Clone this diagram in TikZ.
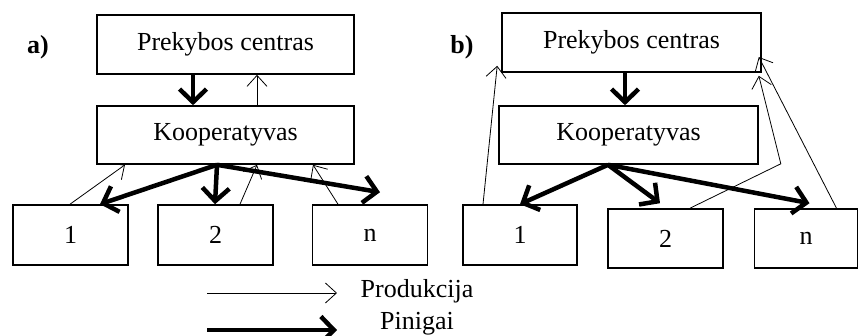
\documentclass[tikz,border=0pt]{standalone}
\usepackage{fontspec}
\setmainfont{Liberation Serif}
\usetikzlibrary{arrows.meta}

\begin{document}
\begin{tikzpicture}[x=1pt,y=-1pt,
  box/.style={draw,line width=1.6pt,inner sep=0pt,font=\fontsize{26}{30}\selectfont},
  lbl/.style={font=\fontsize{26}{30}\selectfont},
  prod/.style={line width=0.8pt,-{Straight Barb[length=11pt,width=20pt]}},
  pin/.style={line width=4.5pt,-{Straight Barb[length=13pt,width=27pt]}}]
\useasboundingbox (0,0) rectangle (859,335);
\node[lbl,font=\fontsize{26}{30}\selectfont\bfseries] (ta) at (38,47) {a)};
\node[box,minimum width=257,minimum height=59] (pa) at (225.5,44.5) {Prekybos centras};
\node[box,minimum width=257,minimum height=58] (ka) at (225.5,135) {Kooperatyvas};
  \foreach \nm/\txt/\pos in {a1/1/70.5,a2/2/215.5,an/n/370}
  {  \node[box,minimum width=115,minimum height=60] (\nm) at (\pos,235) {\txt};}
\draw[pin] ([xshift=-32.5pt]pa.south) -- ([xshift=-32.5pt]ka.north);
\draw[prod] ([xshift=31.5pt]ka.north) -- ([xshift=31.5pt]pa.south);
\draw[pin] ([xshift=-8.5pt]ka.south) -- ([xshift=29.5pt]a1.north);
\draw[pin] ([xshift=-8.5pt]ka.south) -- ([xshift=-0.5pt]a2.north);
\draw[pin] ([xshift=-8.5pt]ka.south) -- ([xshift=10pt,yshift=12pt]an.north);
\draw[prod] ([xshift=-0.5pt]a1.north) -- ([xshift=-100.5pt]ka.south);
\draw[prod] ([xshift=24.5pt]a2.north) -- ([xshift=31.5pt]ka.south);
\draw[prod] ([xshift=-32pt]an.north) -- ([xshift=87.5pt]ka.south);

\node[lbl,font=\fontsize{26}{30}\selectfont\bfseries] (tb) at (462,47) {b)};
\node[box,minimum width=259,minimum height=59] (pb) at (631.5,42.5) {Prekybos centras};
\node[box,minimum width=259,minimum height=58] (kb) at (628.5,135) {Kooperatyvas};
\node[box,minimum width=114,minimum height=60] (b1) at (520,235) {1};
\node[box,minimum width=115,minimum height=59] (b2) at (665.5,238.5) {2};
\node[box,minimum width=103,minimum height=59] (bn) at (806,238.5) {n};
\draw[pin] ([xshift=-6.5pt]pb.south) -- ([xshift=-3.5pt]kb.north);
\draw[pin] ([xshift=-20.5pt]kb.south) -- (b1.north);
\draw[pin] ([xshift=-20.5pt]kb.south) -- ([xshift=-5.5pt,yshift=5pt]b2.north);
\draw[pin] ([xshift=-20.5pt]kb.south) -- ([xshift=3.5pt,yshift=5pt]bn.north);
\draw[prod] ([xshift=-37pt]b1.north) -- ([xshift=-4pt,yshift=7pt]pb.south west);
\coordinate (b2k) at ([xshift=22pt,yshift=1pt]kb.south east);
\draw[prod] ([xshift=24.5pt]b2.north) -- (b2k) -- ([xshift=-3pt,yshift=-3pt]pb.south east);
\draw[prod] ([xshift=30.5pt]bn.north) -- ([xshift=-3pt,yshift=-14.5pt]pb.east);

\coordinate (lp1) at (207,293);
\coordinate (lp2) at (337,293);
\coordinate (lq1) at (207,330);
\coordinate (lq2) at (337,330);
\draw[prod] (lp1) -- (lp2);
\draw[pin] (lq1) -- (lq2);
\node[lbl] (prodtxt) at (417,291) {Produkcija};
\node[lbl] (pintxt) at (417,324) {Pinigai};
\end{tikzpicture}
\end{document}
